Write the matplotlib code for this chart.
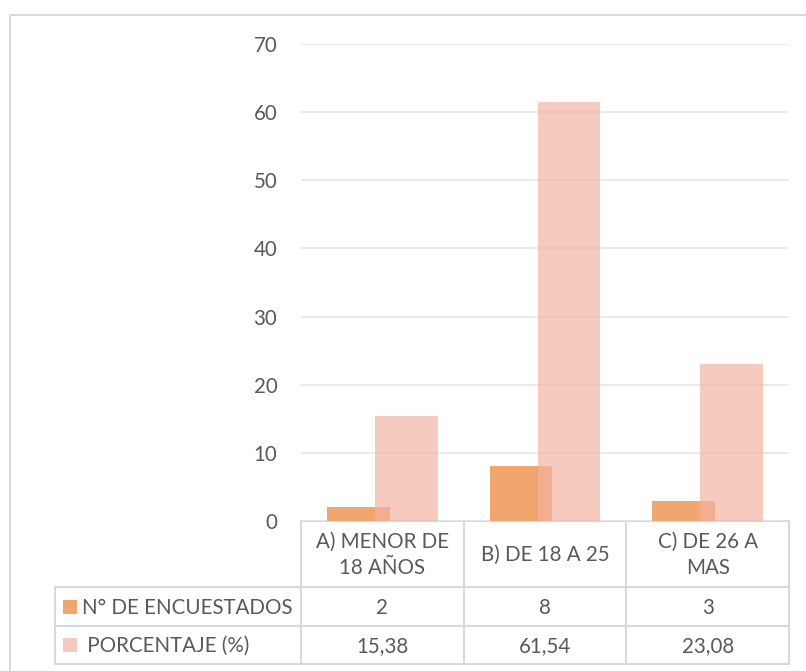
import matplotlib
matplotlib.use("Agg")
import matplotlib.pyplot as plt
from matplotlib.transforms import blended_transform_factory
from matplotlib.patches import Rectangle

categories = ["A) MENOR DE\n18 AÑOS", "B) DE 18 A 25", "C) DE 26 A\nMAS"]
encuestados = [2, 8, 3]
porcentaje = [15.38, 61.54, 23.08]
series_names = ["N° DE ENCUESTADOS", " PORCENTAJE (%)"]
row_text = [["2", "8", "3"], ["15,38", "61,54", "23,08"]]
y_ticks = [0, 10, 20, 30, 40, 50, 60, 70]

W, H = 806, 671
FONT = "Lato"
TXT = "#595959"
GRID = "#E6E6E6"
LINE = "#D9D9D9"
ORANGE = "#F0A66E"
PINK = (243 / 255, 178 / 255, 160 / 255)
PINK_ALPHA = 0.68
FS = 14.8

plt.rcParams["font.family"] = [FONT, "DejaVu Sans"]

fig = plt.figure(figsize=(W / 100, H / 100), dpi=100)

# pixel-space overlay for the frame and the data table
ov = fig.add_axes([0, 0, 1, 1], zorder=0)
ov.set_xlim(0, W)
ov.set_ylim(H, 0)
ov.axis("off")

# chart frame
ov.plot([10, 10, W + 5], [H + 5, 15, 15], color=LINE, lw=1.5, solid_capstyle="butt")

# plot area
x0, x1, y_top, y_zero = 301, 789, 44, 521
ax = fig.add_axes([x0 / W, 1 - y_zero / H, (x1 - x0) / W, (y_zero - y_top) / H], zorder=1)
ax.patch.set_alpha(0)
ax.set_xlim(-0.5, len(categories) - 0.5)
ax.set_ylim(0, 70)
for s in ax.spines.values():
    s.set_visible(False)
ax.set_xticks([])
ax.set_yticks(y_ticks)
ax.set_yticklabels([str(t) for t in y_ticks], fontsize=FS, color=TXT)
ax.tick_params(axis="y", length=0, pad=17)
ax.yaxis.grid(True, color=GRID, lw=1.2)
ax.set_axisbelow(True)

bw = 0.387
off = 0.1475
xs = list(range(len(categories)))
ax.bar([x - off for x in xs], encuestados, width=bw, color=ORANGE, zorder=2)
ax.bar([x + off for x in xs], porcentaje, width=bw, color=PINK, alpha=PINK_ALPHA, zorder=3)

# data table under the plot: x follows the category axis, y in pixels
tr = blended_transform_factory(ax.transData, ov.transData)
edges = [i - 0.5 for i in range(len(categories) + 1)]
r_head_bot, r1_bot, r2_bot = 587, 626, 664
tab_left = 55

for e in edges:
    ov.plot([e, e], [y_zero, r2_bot], color=LINE, lw=1.5, transform=tr, solid_capstyle="projecting")
ov.plot([edges[0], edges[-1]], [y_zero, y_zero], color=LINE, lw=1.5, transform=tr)
for yy in (r_head_bot, r1_bot, r2_bot):
    ov.plot([tab_left, x0], [yy, yy], color=LINE, lw=1.5, solid_capstyle="projecting")
    ov.plot([edges[0], edges[-1]], [yy, yy], color=LINE, lw=1.5, transform=tr, solid_capstyle="projecting")
ov.plot([tab_left, tab_left], [r_head_bot, r2_bot], color=LINE, lw=1.5, solid_capstyle="projecting")

for i, c in enumerate(categories):
    ov.text(i, (y_zero + r_head_bot) / 2 + 1, c, transform=tr, ha="center", va="center",
            fontsize=FS, color=TXT, linespacing=1.38)

row_mid = [(r_head_bot + r1_bot) / 2 + 1, (r1_bot + r2_bot) / 2 + 1]
for r, vals in enumerate(row_text):
    for i, v in enumerate(vals):
        ov.text(i, row_mid[r], v, transform=tr, ha="center", va="center", fontsize=FS, color=TXT)

key_colors = [(ORANGE, 1.0), (PINK, PINK_ALPHA)]
for r, name in enumerate(series_names):
    col, a = key_colors[r]
    ov.add_patch(Rectangle((63, row_mid[r] - 8), 14, 14, facecolor=col, alpha=a, edgecolor="none"))
    ov.text(82, row_mid[r], name, ha="left", va="center", fontsize=FS, color=TXT)

fig.savefig("out.png", dpi=100)
